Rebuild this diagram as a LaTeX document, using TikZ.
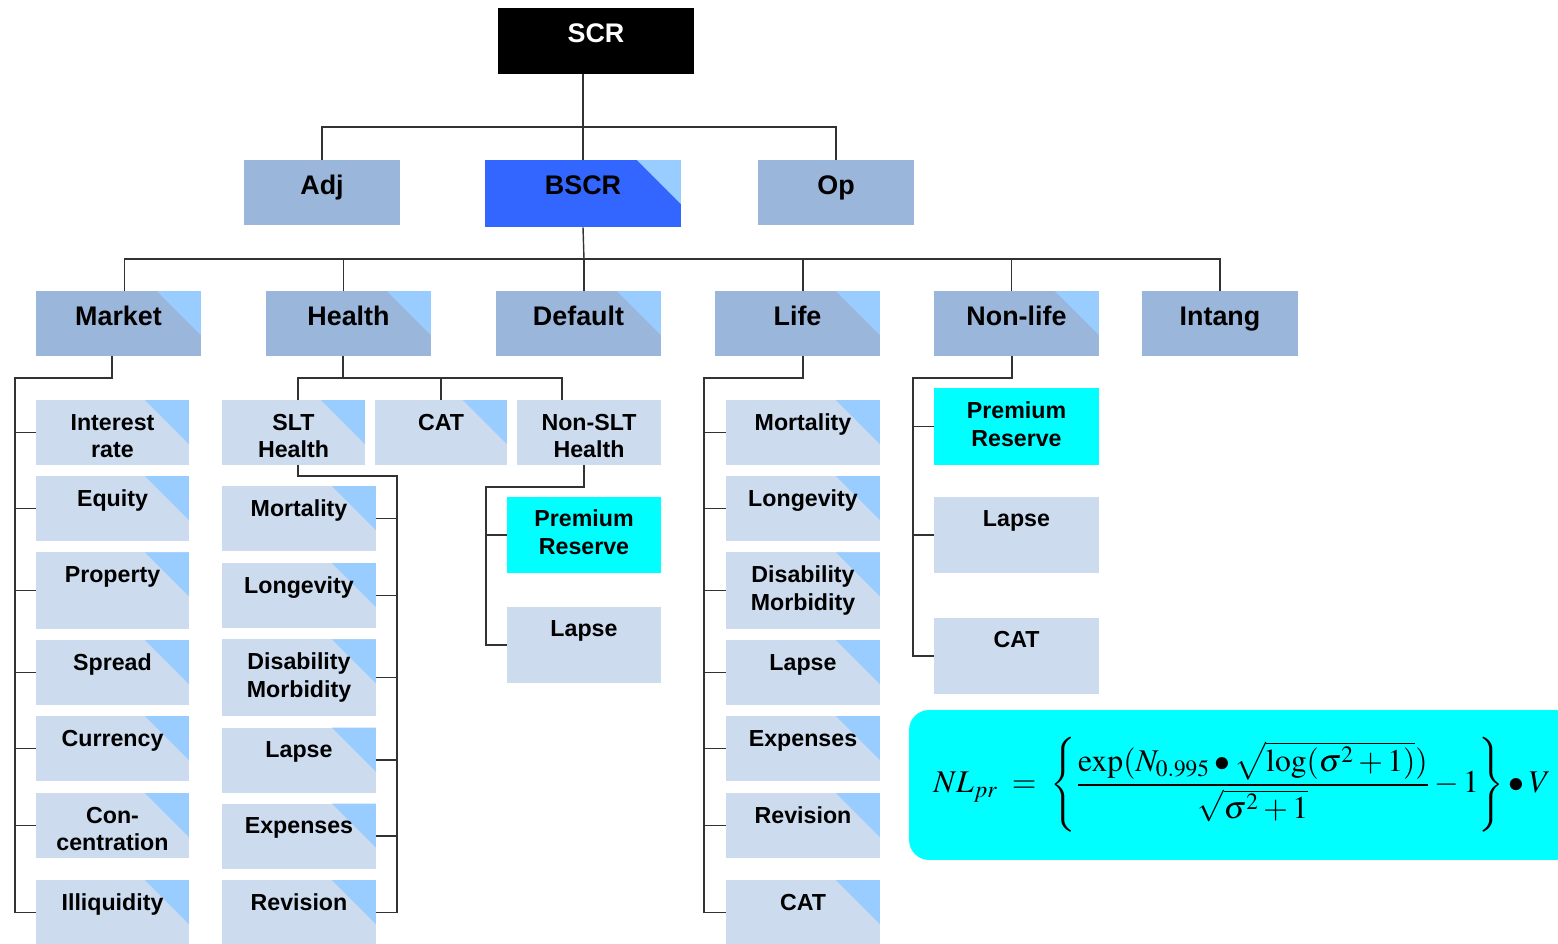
\documentclass[tikz,border=0pt]{standalone}
\usepackage{amsmath}
\usepackage{mathptmx}
\usepackage{fontspec}
\newfontfamily\arialfont{Liberation Sans}
\usetikzlibrary{calc,positioning}
\definecolor{darkbox}{RGB}{155,182,219}
\definecolor{lightbox}{RGB}{204,219,238}
\definecolor{cornerblue}{RGB}{153,204,255}
\definecolor{bscrblue}{RGB}{51,102,255}
\definecolor{aqua}{RGB}{0,255,255}
\definecolor{linegray}{RGB}{50,50,50}

\begin{document}
\begin{tikzpicture}[x=0.02cm, y=-0.02cm]
      \tikzstyle{base} = [rectangle, inner sep=0pt, align=center, draw=none]
      \tikzstyle{topnode} = [base, text height=0.68cm, text depth=0.62cm, font=\arialfont\bfseries\fontsize{15.3}{18}\selectfont]
      \tikzstyle{subnode} = [base, text height=0.6cm, text depth=0.7cm, font=\arialfont\bfseries\fontsize{13.2}{15.9}\selectfont]
      \tikzstyle{tall} = [text depth=0.93cm]
      \tikzstyle{corner} = [path picture={\fill[cornerblue] (path picture bounding box.north east) -- ++(-44,0) -- ++(44,44) -- cycle;}]
      \tikzstyle{lvl} = [topnode, text width=3.3cm, fill=darkbox, corner]
      \tikzstyle{leaf} = [subnode, fill=lightbox, corner]
      \tikzstyle{wire} = [draw=linegray, line width=0.8pt]
      \useasboundingbox (0,0) rectangle (1558,943);

      % top levels
      \node[topnode, text width=3.92cm, fill=black, text=white, text depth=0.64cm] (scr) at (596,41) {SCR};
      \node[topnode, text width=3.12cm, fill=darkbox] (adj) at (322,192.5) {Adj};
      \node[topnode, text width=3.92cm, fill=bscrblue, corner, text depth=0.66cm] (bscr) at (583,193.5) {BSCR};
      \node[topnode, text width=3.12cm, fill=darkbox] (op) at (836,192.5) {Op};

      \node[lvl] (mkt) at (118.5,323.5) {Market};
      \node[lvl] (hlt) at (348.5,323.5) {Health};
      \node[lvl] (dft) at (578.5,323.5) {Default};
      \node[lvl] (life) at (797.5,323.5) {Life};
      \node[lvl] (nlife) at (1016.5,323.5) {Non-life};
      \node[topnode, text width=3.12cm, fill=darkbox] (intg) at (1220,323.5) {Intang};

      % market
      \node[leaf, text width=3.06cm] (ir) at (112.5,432.5) {Interest\\rate};
      \node[leaf, text width=3.06cm] (eq) at (112.5,508.5) {Equity};
      \node[leaf, tall, text width=3.06cm] (prop) at (112.5,590.5) {Property};
      \node[leaf, text width=3.06cm] (spr) at (112.5,672.5) {Spread};
      \node[leaf, text width=3.06cm] (cur) at (112.5,748.5) {Currency};
      \node[leaf, text width=3.06cm] (conc) at (112.5,825.5) {Con-\\centration};
      \node[leaf, text width=3.06cm] (illq) at (112.5,912.5) {Illiquidity};

      % health
      \node[leaf, text width=2.86cm] (slt) at (293.5,432.5) {SLT\\Health};
      \node[leaf, text width=2.64cm] (hcat) at (441,432.5) {CAT};
      \node[subnode, fill=lightbox, text width=2.88cm] (nslt) at (589,432.5) {Non-SLT\\Health};

      \node[leaf, text width=3.08cm] (smort) at (299,518.5) {Mortality};
      \node[leaf, text width=3.08cm] (slong) at (299,595.5) {Longevity};
      \node[leaf, tall, text width=3.08cm] (sdis) at (299,677.5) {Disability\\Morbidity};
      \node[leaf, text width=3.08cm] (slapse) at (299,760) {Lapse};
      \node[leaf, text width=3.08cm] (sexp) at (299,836) {Expenses};
      \node[leaf, text width=3.08cm] (srev) at (299,912.5) {Revision};

      \node[subnode, tall, fill=aqua, text width=3.08cm] (hprem) at (584,535) {Premium\\Reserve};
      \node[subnode, tall, fill=lightbox, text width=3.08cm] (hlapse) at (584,645) {Lapse};

      % life
      \node[leaf, text width=3.08cm] (lmort) at (803,432.5) {Mortality};
      \node[leaf, text width=3.08cm] (llong) at (803,508.5) {Longevity};
      \node[leaf, tall, text width=3.08cm] (ldis) at (803,590.5) {Disability\\Morbidity};
      \node[leaf, text width=3.08cm] (llapse) at (803,672.5) {Lapse};
      \node[leaf, text width=3.08cm] (lexp) at (803,748.5) {Expenses};
      \node[leaf, text width=3.08cm] (lrev) at (803,825.5) {Revision};
      \node[leaf, text width=3.08cm] (lcat) at (803,912.5) {CAT};

      % non-life
      \node[subnode, tall, fill=aqua, text width=3.3cm] (nprem) at (1016.5,426.5) {Premium\\Reserve};
      \node[subnode, tall, fill=lightbox, text width=3.3cm] (nlapse) at (1016.5,535) {Lapse};
      \node[subnode, tall, fill=lightbox, text width=3.3cm] (ncat) at (1016.5,656) {CAT};

      % premium reserve formula
      \node[rectangle, fill=aqua, rounded corners=0.4cm, minimum width=13.32cm, minimum height=3cm, inner sep=0pt, font=\fontsize{18}{22}\selectfont] (nlpr) at (1242,785)
        {$NL_{pr} \;=\; \left\{ \dfrac{\exp(N_{0.995} \bullet \sqrt{\log(\sigma^2 + 1)})}{\sqrt{\sigma^2 + 1}} - 1 \right\} \bullet V$};

      % connectors
      \coordinate (top bus) at (584,127);
      \draw[wire] (scr.south -| bscr.north) -- (bscr.north);
      \draw[wire] (adj.north) |- (top bus) -| (op.north);
      \coordinate (mid bus) at (584,259);
      \draw[wire] (bscr.south) -- (mid bus);
      \draw[wire] ([xshift=3.4pt]mkt.north) |- (mid bus) -| (intg.north);
      \foreach \n/\s in {hlt/-2.8pt,dft/3.1pt,life/3.1pt,nlife/-2.8pt} \draw[wire] ([xshift=\s]\n.north) -- ++(0,-32);

      \coordinate (mkt bus) at (15,378);
      \draw[wire] ([xshift=-3.7pt]mkt.south) |- (mkt bus) |- (illq.west);
      \foreach \n in {ir,eq,prop,spr,cur,conc} \draw[wire] (\n.west) -- (\n.west -| mkt bus);

      \coordinate (hlt bus) at (343,378);
      \draw[wire] (hlt bus) -- (hlt bus |- hlt.south);
      \draw[wire] ([xshift=2.6pt]slt.north) |- (hlt bus) -| ([xshift=-15.3pt]nslt.north);
      \draw[wire] (hcat.north) -- (hcat.north |- hlt bus);
      \coordinate (slt bus) at (397,476);
      \draw[wire] ([xshift=2.6pt]slt.south) |- (slt bus) |- (srev.east);
      \foreach \n in {smort,slong,sdis,slapse,sexp} \draw[wire] (\n.east) -- (\n.east -| slt bus);
      \coordinate (nslt bus) at (486,487);
      \draw[wire] ([xshift=-2.8pt]nslt.south) |- (nslt bus) |- (hlapse.west);
      \draw[wire] (hprem.west) -- (hprem.west -| nslt bus);

      \coordinate (life bus) at (704,378);
      \draw[wire] ([xshift=3.1pt]life.south) |- (life bus) |- (lcat.west);
      \foreach \n in {lmort,llong,ldis,llapse,lexp,lrev} \draw[wire] (\n.west) -- (\n.west -| life bus);

      \coordinate (nlife bus) at (913,378);
      \draw[wire] ([xshift=-2.6pt]nlife.south) |- (nlife bus) |- (ncat.west);
      \foreach \n in {nprem,nlapse} \draw[wire] (\n.west) -- (\n.west -| nlife bus);
    \end{tikzpicture}
\end{document}
